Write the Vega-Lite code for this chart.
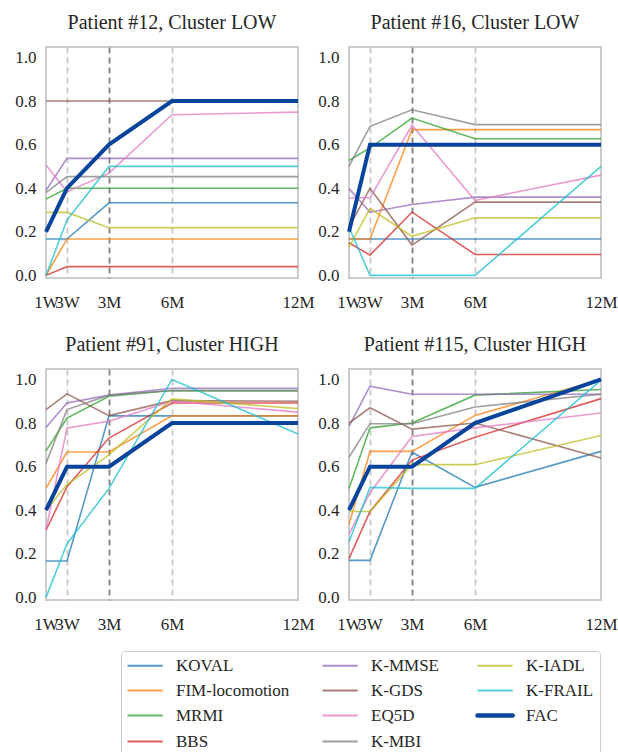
{
  "$schema": "https://vega.github.io/schema/vega-lite/v6.json",
  "padding": {"left": 13, "top": 12, "right": 0, "bottom": 0},
  "config": {
    "font": "Liberation Serif",
    "view": {"stroke": "#cccccc", "strokeWidth": 2},
    "axis": {"labelFont": "Liberation Serif", "labelFontSize": 17, "labelColor": "#262626", "ticks": false, "domain": false, "title": null},
    "header": {"labelFont": "Liberation Serif", "labelFontSize": 20, "labelColor": "#262626", "title": null},
    "legend": {"labelFont": "Liberation Serif", "labelFontSize": 17, "labelColor": "#262626"}
  },
  "datasets": {
    "scores": [
      {"p":"Patient #12, Cluster LOW","m":"KOVAL","t":0,"v":0.167},{"p":"Patient #12, Cluster LOW","m":"KOVAL","t":1,"v":0.167},{"p":"Patient #12, Cluster LOW","m":"KOVAL","t":3,"v":0.333},{"p":"Patient #12, Cluster LOW","m":"KOVAL","t":6,"v":0.333},{"p":"Patient #12, Cluster LOW","m":"KOVAL","t":12,"v":0.333},
      {"p":"Patient #12, Cluster LOW","m":"FIM-locomotion","t":0,"v":0},{"p":"Patient #12, Cluster LOW","m":"FIM-locomotion","t":1,"v":0.167},{"p":"Patient #12, Cluster LOW","m":"FIM-locomotion","t":3,"v":0.167},{"p":"Patient #12, Cluster LOW","m":"FIM-locomotion","t":6,"v":0.167},{"p":"Patient #12, Cluster LOW","m":"FIM-locomotion","t":12,"v":0.167},
      {"p":"Patient #12, Cluster LOW","m":"MRMI","t":0,"v":0.35},{"p":"Patient #12, Cluster LOW","m":"MRMI","t":1,"v":0.4},{"p":"Patient #12, Cluster LOW","m":"MRMI","t":3,"v":0.4},{"p":"Patient #12, Cluster LOW","m":"MRMI","t":6,"v":0.4},{"p":"Patient #12, Cluster LOW","m":"MRMI","t":12,"v":0.4},
      {"p":"Patient #12, Cluster LOW","m":"BBS","t":0,"v":0},{"p":"Patient #12, Cluster LOW","m":"BBS","t":1,"v":0.04},{"p":"Patient #12, Cluster LOW","m":"BBS","t":3,"v":0.04},{"p":"Patient #12, Cluster LOW","m":"BBS","t":6,"v":0.04},{"p":"Patient #12, Cluster LOW","m":"BBS","t":12,"v":0.04},
      {"p":"Patient #12, Cluster LOW","m":"K-MMSE","t":0,"v":0.39},{"p":"Patient #12, Cluster LOW","m":"K-MMSE","t":1,"v":0.537},{"p":"Patient #12, Cluster LOW","m":"K-MMSE","t":3,"v":0.537},{"p":"Patient #12, Cluster LOW","m":"K-MMSE","t":6,"v":0.537},{"p":"Patient #12, Cluster LOW","m":"K-MMSE","t":12,"v":0.537},
      {"p":"Patient #12, Cluster LOW","m":"K-GDS","t":0,"v":0.8},{"p":"Patient #12, Cluster LOW","m":"K-GDS","t":1,"v":0.8},{"p":"Patient #12, Cluster LOW","m":"K-GDS","t":3,"v":0.8},{"p":"Patient #12, Cluster LOW","m":"K-GDS","t":6,"v":0.8},{"p":"Patient #12, Cluster LOW","m":"K-GDS","t":12,"v":0.8},
      {"p":"Patient #12, Cluster LOW","m":"EQ5D","t":0,"v":0.507},{"p":"Patient #12, Cluster LOW","m":"EQ5D","t":1,"v":0.384},{"p":"Patient #12, Cluster LOW","m":"EQ5D","t":3,"v":0.469},{"p":"Patient #12, Cluster LOW","m":"EQ5D","t":6,"v":0.737},{"p":"Patient #12, Cluster LOW","m":"EQ5D","t":12,"v":0.749},
      {"p":"Patient #12, Cluster LOW","m":"K-MBI","t":0,"v":0.38},{"p":"Patient #12, Cluster LOW","m":"K-MBI","t":1,"v":0.453},{"p":"Patient #12, Cluster LOW","m":"K-MBI","t":3,"v":0.453},{"p":"Patient #12, Cluster LOW","m":"K-MBI","t":6,"v":0.453},{"p":"Patient #12, Cluster LOW","m":"K-MBI","t":12,"v":0.453},
      {"p":"Patient #12, Cluster LOW","m":"K-IADL","t":0,"v":0.289},{"p":"Patient #12, Cluster LOW","m":"K-IADL","t":1,"v":0.289},{"p":"Patient #12, Cluster LOW","m":"K-IADL","t":3,"v":0.219},{"p":"Patient #12, Cluster LOW","m":"K-IADL","t":6,"v":0.219},{"p":"Patient #12, Cluster LOW","m":"K-IADL","t":12,"v":0.219},
      {"p":"Patient #12, Cluster LOW","m":"K-FRAIL","t":0,"v":0},{"p":"Patient #12, Cluster LOW","m":"K-FRAIL","t":1,"v":0.254},{"p":"Patient #12, Cluster LOW","m":"K-FRAIL","t":3,"v":0.5},{"p":"Patient #12, Cluster LOW","m":"K-FRAIL","t":6,"v":0.5},{"p":"Patient #12, Cluster LOW","m":"K-FRAIL","t":12,"v":0.5},
      {"p":"Patient #12, Cluster LOW","m":"FAC","t":0,"v":0.2},{"p":"Patient #12, Cluster LOW","m":"FAC","t":1,"v":0.4},{"p":"Patient #12, Cluster LOW","m":"FAC","t":3,"v":0.6},{"p":"Patient #12, Cluster LOW","m":"FAC","t":6,"v":0.8},{"p":"Patient #12, Cluster LOW","m":"FAC","t":12,"v":0.8},

      {"p":"Patient #16, Cluster LOW","m":"KOVAL","t":0,"v":0.167},{"p":"Patient #16, Cluster LOW","m":"KOVAL","t":1,"v":0.167},{"p":"Patient #16, Cluster LOW","m":"KOVAL","t":3,"v":0.167},{"p":"Patient #16, Cluster LOW","m":"KOVAL","t":6,"v":0.167},{"p":"Patient #16, Cluster LOW","m":"KOVAL","t":12,"v":0.167},
      {"p":"Patient #16, Cluster LOW","m":"FIM-locomotion","t":0,"v":0.167},{"p":"Patient #16, Cluster LOW","m":"FIM-locomotion","t":1,"v":0.167},{"p":"Patient #16, Cluster LOW","m":"FIM-locomotion","t":3,"v":0.669},{"p":"Patient #16, Cluster LOW","m":"FIM-locomotion","t":6,"v":0.669},{"p":"Patient #16, Cluster LOW","m":"FIM-locomotion","t":12,"v":0.669},
      {"p":"Patient #16, Cluster LOW","m":"MRMI","t":0,"v":0.527},{"p":"Patient #16, Cluster LOW","m":"MRMI","t":1,"v":0.585},{"p":"Patient #16, Cluster LOW","m":"MRMI","t":3,"v":0.722},{"p":"Patient #16, Cluster LOW","m":"MRMI","t":6,"v":0.627},{"p":"Patient #16, Cluster LOW","m":"MRMI","t":12,"v":0.627},
      {"p":"Patient #16, Cluster LOW","m":"BBS","t":0,"v":0.15},{"p":"Patient #16, Cluster LOW","m":"BBS","t":1,"v":0.093},{"p":"Patient #16, Cluster LOW","m":"BBS","t":3,"v":0.29},{"p":"Patient #16, Cluster LOW","m":"BBS","t":6,"v":0.096},{"p":"Patient #16, Cluster LOW","m":"BBS","t":12,"v":0.096},
      {"p":"Patient #16, Cluster LOW","m":"K-MMSE","t":0,"v":0.398},{"p":"Patient #16, Cluster LOW","m":"K-MMSE","t":1,"v":0.29},{"p":"Patient #16, Cluster LOW","m":"K-MMSE","t":3,"v":0.325},{"p":"Patient #16, Cluster LOW","m":"K-MMSE","t":6,"v":0.359},{"p":"Patient #16, Cluster LOW","m":"K-MMSE","t":12,"v":0.359},
      {"p":"Patient #16, Cluster LOW","m":"K-GDS","t":0,"v":0.22},{"p":"Patient #16, Cluster LOW","m":"K-GDS","t":1,"v":0.4},{"p":"Patient #16, Cluster LOW","m":"K-GDS","t":3,"v":0.139},{"p":"Patient #16, Cluster LOW","m":"K-GDS","t":6,"v":0.336},{"p":"Patient #16, Cluster LOW","m":"K-GDS","t":12,"v":0.336},
      {"p":"Patient #16, Cluster LOW","m":"EQ5D","t":0,"v":0.356},{"p":"Patient #16, Cluster LOW","m":"EQ5D","t":1,"v":0.356},{"p":"Patient #16, Cluster LOW","m":"EQ5D","t":3,"v":0.689},{"p":"Patient #16, Cluster LOW","m":"EQ5D","t":6,"v":0.344},{"p":"Patient #16, Cluster LOW","m":"EQ5D","t":12,"v":0.46},
      {"p":"Patient #16, Cluster LOW","m":"K-MBI","t":0,"v":0.5},{"p":"Patient #16, Cluster LOW","m":"K-MBI","t":1,"v":0.684},{"p":"Patient #16, Cluster LOW","m":"K-MBI","t":3,"v":0.76},{"p":"Patient #16, Cluster LOW","m":"K-MBI","t":6,"v":0.692},{"p":"Patient #16, Cluster LOW","m":"K-MBI","t":12,"v":0.692},
      {"p":"Patient #16, Cluster LOW","m":"K-IADL","t":0,"v":0.13},{"p":"Patient #16, Cluster LOW","m":"K-IADL","t":1,"v":0.307},{"p":"Patient #16, Cluster LOW","m":"K-IADL","t":3,"v":0.179},{"p":"Patient #16, Cluster LOW","m":"K-IADL","t":6,"v":0.264},{"p":"Patient #16, Cluster LOW","m":"K-IADL","t":12,"v":0.264},
      {"p":"Patient #16, Cluster LOW","m":"K-FRAIL","t":0,"v":0.22},{"p":"Patient #16, Cluster LOW","m":"K-FRAIL","t":1,"v":0},{"p":"Patient #16, Cluster LOW","m":"K-FRAIL","t":3,"v":0},{"p":"Patient #16, Cluster LOW","m":"K-FRAIL","t":6,"v":0},{"p":"Patient #16, Cluster LOW","m":"K-FRAIL","t":12,"v":0.5},
      {"p":"Patient #16, Cluster LOW","m":"FAC","t":0,"v":0.2},{"p":"Patient #16, Cluster LOW","m":"FAC","t":1,"v":0.6},{"p":"Patient #16, Cluster LOW","m":"FAC","t":3,"v":0.6},{"p":"Patient #16, Cluster LOW","m":"FAC","t":6,"v":0.6},{"p":"Patient #16, Cluster LOW","m":"FAC","t":12,"v":0.6},

      {"p":"Patient #91, Cluster HIGH","m":"KOVAL","t":0,"v":0.167},{"p":"Patient #91, Cluster HIGH","m":"KOVAL","t":1,"v":0.167},{"p":"Patient #91, Cluster HIGH","m":"KOVAL","t":3,"v":0.833},{"p":"Patient #91, Cluster HIGH","m":"KOVAL","t":6,"v":0.833},{"p":"Patient #91, Cluster HIGH","m":"KOVAL","t":12,"v":0.833},
      {"p":"Patient #91, Cluster HIGH","m":"FIM-locomotion","t":0,"v":0.5},{"p":"Patient #91, Cluster HIGH","m":"FIM-locomotion","t":1,"v":0.667},{"p":"Patient #91, Cluster HIGH","m":"FIM-locomotion","t":3,"v":0.667},{"p":"Patient #91, Cluster HIGH","m":"FIM-locomotion","t":6,"v":0.833},{"p":"Patient #91, Cluster HIGH","m":"FIM-locomotion","t":12,"v":0.833},
      {"p":"Patient #91, Cluster HIGH","m":"MRMI","t":0,"v":0.672},{"p":"Patient #91, Cluster HIGH","m":"MRMI","t":1,"v":0.823},{"p":"Patient #91, Cluster HIGH","m":"MRMI","t":3,"v":0.923},{"p":"Patient #91, Cluster HIGH","m":"MRMI","t":6,"v":0.949},{"p":"Patient #91, Cluster HIGH","m":"MRMI","t":12,"v":0.949},
      {"p":"Patient #91, Cluster HIGH","m":"BBS","t":0,"v":0.308},{"p":"Patient #91, Cluster HIGH","m":"BBS","t":1,"v":0.508},{"p":"Patient #91, Cluster HIGH","m":"BBS","t":3,"v":0.731},{"p":"Patient #91, Cluster HIGH","m":"BBS","t":6,"v":0.892},{"p":"Patient #91, Cluster HIGH","m":"BBS","t":12,"v":0.892},
      {"p":"Patient #91, Cluster HIGH","m":"K-MMSE","t":0,"v":0.78},{"p":"Patient #91, Cluster HIGH","m":"K-MMSE","t":1,"v":0.892},{"p":"Patient #91, Cluster HIGH","m":"K-MMSE","t":3,"v":0.928},{"p":"Patient #91, Cluster HIGH","m":"K-MMSE","t":6,"v":0.96},{"p":"Patient #91, Cluster HIGH","m":"K-MMSE","t":12,"v":0.96},
      {"p":"Patient #91, Cluster HIGH","m":"K-GDS","t":0,"v":0.862},{"p":"Patient #91, Cluster HIGH","m":"K-GDS","t":1,"v":0.934},{"p":"Patient #91, Cluster HIGH","m":"K-GDS","t":3,"v":0.834},{"p":"Patient #91, Cluster HIGH","m":"K-GDS","t":6,"v":0.903},{"p":"Patient #91, Cluster HIGH","m":"K-GDS","t":12,"v":0.9},
      {"p":"Patient #91, Cluster HIGH","m":"EQ5D","t":0,"v":0.31},{"p":"Patient #91, Cluster HIGH","m":"EQ5D","t":1,"v":0.777},{"p":"Patient #91, Cluster HIGH","m":"EQ5D","t":3,"v":0.808},{"p":"Patient #91, Cluster HIGH","m":"EQ5D","t":6,"v":0.9},{"p":"Patient #91, Cluster HIGH","m":"EQ5D","t":12,"v":0.85},
      {"p":"Patient #91, Cluster HIGH","m":"K-MBI","t":0,"v":0.615},{"p":"Patient #91, Cluster HIGH","m":"K-MBI","t":1,"v":0.862},{"p":"Patient #91, Cluster HIGH","m":"K-MBI","t":3,"v":0.928},{"p":"Patient #91, Cluster HIGH","m":"K-MBI","t":6,"v":0.949},{"p":"Patient #91, Cluster HIGH","m":"K-MBI","t":12,"v":0.949},
      {"p":"Patient #91, Cluster HIGH","m":"K-IADL","t":0,"v":0.4},{"p":"Patient #91, Cluster HIGH","m":"K-IADL","t":1,"v":0.518},{"p":"Patient #91, Cluster HIGH","m":"K-IADL","t":3,"v":0.654},{"p":"Patient #91, Cluster HIGH","m":"K-IADL","t":6,"v":0.911},{"p":"Patient #91, Cluster HIGH","m":"K-IADL","t":12,"v":0.866},
      {"p":"Patient #91, Cluster HIGH","m":"K-FRAIL","t":0,"v":0},{"p":"Patient #91, Cluster HIGH","m":"K-FRAIL","t":1,"v":0.246},{"p":"Patient #91, Cluster HIGH","m":"K-FRAIL","t":3,"v":0.5},{"p":"Patient #91, Cluster HIGH","m":"K-FRAIL","t":6,"v":1.0},{"p":"Patient #91, Cluster HIGH","m":"K-FRAIL","t":12,"v":0.75},
      {"p":"Patient #91, Cluster HIGH","m":"FAC","t":0,"v":0.4},{"p":"Patient #91, Cluster HIGH","m":"FAC","t":1,"v":0.6},{"p":"Patient #91, Cluster HIGH","m":"FAC","t":3,"v":0.6},{"p":"Patient #91, Cluster HIGH","m":"FAC","t":6,"v":0.8},{"p":"Patient #91, Cluster HIGH","m":"FAC","t":12,"v":0.8},

      {"p":"Patient #115, Cluster HIGH","m":"KOVAL","t":0,"v":0.17},{"p":"Patient #115, Cluster HIGH","m":"KOVAL","t":1,"v":0.17},{"p":"Patient #115, Cluster HIGH","m":"KOVAL","t":3,"v":0.666},{"p":"Patient #115, Cluster HIGH","m":"KOVAL","t":6,"v":0.505},{"p":"Patient #115, Cluster HIGH","m":"KOVAL","t":12,"v":0.67},
      {"p":"Patient #115, Cluster HIGH","m":"FIM-locomotion","t":0,"v":0.335},{"p":"Patient #115, Cluster HIGH","m":"FIM-locomotion","t":1,"v":0.67},{"p":"Patient #115, Cluster HIGH","m":"FIM-locomotion","t":3,"v":0.67},{"p":"Patient #115, Cluster HIGH","m":"FIM-locomotion","t":6,"v":0.835},{"p":"Patient #115, Cluster HIGH","m":"FIM-locomotion","t":12,"v":1.0},
      {"p":"Patient #115, Cluster HIGH","m":"MRMI","t":0,"v":0.5},{"p":"Patient #115, Cluster HIGH","m":"MRMI","t":1,"v":0.778},{"p":"Patient #115, Cluster HIGH","m":"MRMI","t":3,"v":0.8},{"p":"Patient #115, Cluster HIGH","m":"MRMI","t":6,"v":0.928},{"p":"Patient #115, Cluster HIGH","m":"MRMI","t":12,"v":0.954},
      {"p":"Patient #115, Cluster HIGH","m":"BBS","t":0,"v":0.178},{"p":"Patient #115, Cluster HIGH","m":"BBS","t":1,"v":0.394},{"p":"Patient #115, Cluster HIGH","m":"BBS","t":3,"v":0.63},{"p":"Patient #115, Cluster HIGH","m":"BBS","t":6,"v":0.735},{"p":"Patient #115, Cluster HIGH","m":"BBS","t":12,"v":0.912},
      {"p":"Patient #115, Cluster HIGH","m":"K-MMSE","t":0,"v":0.785},{"p":"Patient #115, Cluster HIGH","m":"K-MMSE","t":1,"v":0.969},{"p":"Patient #115, Cluster HIGH","m":"K-MMSE","t":3,"v":0.932},{"p":"Patient #115, Cluster HIGH","m":"K-MMSE","t":6,"v":0.932},{"p":"Patient #115, Cluster HIGH","m":"K-MMSE","t":12,"v":0.932},
      {"p":"Patient #115, Cluster HIGH","m":"K-GDS","t":0,"v":0.8},{"p":"Patient #115, Cluster HIGH","m":"K-GDS","t":1,"v":0.87},{"p":"Patient #115, Cluster HIGH","m":"K-GDS","t":3,"v":0.772},{"p":"Patient #115, Cluster HIGH","m":"K-GDS","t":6,"v":0.8},{"p":"Patient #115, Cluster HIGH","m":"K-GDS","t":12,"v":0.64},
      {"p":"Patient #115, Cluster HIGH","m":"EQ5D","t":0,"v":0.29},{"p":"Patient #115, Cluster HIGH","m":"EQ5D","t":1,"v":0.48},{"p":"Patient #115, Cluster HIGH","m":"EQ5D","t":3,"v":0.738},{"p":"Patient #115, Cluster HIGH","m":"EQ5D","t":6,"v":0.778},{"p":"Patient #115, Cluster HIGH","m":"EQ5D","t":12,"v":0.846},
      {"p":"Patient #115, Cluster HIGH","m":"K-MBI","t":0,"v":0.643},{"p":"Patient #115, Cluster HIGH","m":"K-MBI","t":1,"v":0.797},{"p":"Patient #115, Cluster HIGH","m":"K-MBI","t":3,"v":0.797},{"p":"Patient #115, Cluster HIGH","m":"K-MBI","t":6,"v":0.874},{"p":"Patient #115, Cluster HIGH","m":"K-MBI","t":12,"v":0.932},
      {"p":"Patient #115, Cluster HIGH","m":"K-IADL","t":0,"v":0.394},{"p":"Patient #115, Cluster HIGH","m":"K-IADL","t":1,"v":0.394},{"p":"Patient #115, Cluster HIGH","m":"K-IADL","t":3,"v":0.609},{"p":"Patient #115, Cluster HIGH","m":"K-IADL","t":6,"v":0.609},{"p":"Patient #115, Cluster HIGH","m":"K-IADL","t":12,"v":0.743},
      {"p":"Patient #115, Cluster HIGH","m":"K-FRAIL","t":0,"v":0.255},{"p":"Patient #115, Cluster HIGH","m":"K-FRAIL","t":1,"v":0.505},{"p":"Patient #115, Cluster HIGH","m":"K-FRAIL","t":3,"v":0.5},{"p":"Patient #115, Cluster HIGH","m":"K-FRAIL","t":6,"v":0.5},{"p":"Patient #115, Cluster HIGH","m":"K-FRAIL","t":12,"v":0.997},
      {"p":"Patient #115, Cluster HIGH","m":"FAC","t":0,"v":0.4},{"p":"Patient #115, Cluster HIGH","m":"FAC","t":1,"v":0.6},{"p":"Patient #115, Cluster HIGH","m":"FAC","t":3,"v":0.6},{"p":"Patient #115, Cluster HIGH","m":"FAC","t":6,"v":0.8},{"p":"Patient #115, Cluster HIGH","m":"FAC","t":12,"v":1.0}
    ]
  },
  "data": {"name": "scores"},
  "facet": {
    "field": "p", "type": "nominal",
    "sort": ["Patient #12, Cluster LOW", "Patient #16, Cluster LOW", "Patient #91, Cluster HIGH", "Patient #115, Cluster HIGH"],
    "header": {"title": null, "labelFont": "Liberation Serif", "labelFontSize": 20, "labelPadding": 14}
  },
  "columns": 2,
  "spacing": {"column": 0, "row": 23},
  "resolve": {"axis": {"x": "independent", "y": "independent"}},
  "spec": {
    "width": 252,
    "height": 231,
    "encoding": {
      "x": {
        "field": "t", "type": "quantitative",
        "scale": {"domain": [0, 12], "nice": false, "zero": false},
        "axis": {
          "values": [0, 1, 3, 6, 12],
          "labelExpr": "datum.value == 0 ? '1W' : datum.value == 1 ? '3W' : datum.value == 3 ? '3M' : datum.value == 6 ? '6M' : '12M'",
          "labelFont": "Liberation Serif",
          "labelFontSize": 17,
          "labelPadding": 16,
          "labelFlush": false,
          "labelOverlap": false,
          "grid": true,
          "gridDash": [6, 4],
          "gridWidth": 1.8,
          "gridColor": {"condition": {"test": "datum.value == 3", "value": "#808080"}, "value": "#c8c8c8"},
          "gridOpacity": {"condition": {"test": "datum.value == 0 || datum.value == 12", "value": 0}, "value": 1}
        }
      },
      "y": {
        "field": "v", "type": "quantitative",
        "scale": {"domain": [-0.012, 1.048], "nice": false, "zero": false},
        "axis": {"values": [0, 0.2, 0.4, 0.6, 0.8, 1.0], "format": ".1f", "labelFont": "Liberation Serif", "labelFontSize": 17, "labelPadding": 10, "grid": false}
      },
      "color": {
        "field": "m", "type": "nominal",
        "scale": {
          "domain": ["KOVAL", "FIM-locomotion", "MRMI", "BBS", "K-MMSE", "K-GDS", "EQ5D", "K-MBI", "K-IADL", "K-FRAIL", "FAC"],
          "range": ["#1f77b4", "#ff7f0e", "#2ca02c", "#d62728", "#9467bd", "#8c564b", "#e377c2", "#7f7f7f", "#bcbd22", "#17becf", "#08449c"]
        },
        "legend": {
          "title": null, "orient": "none", "legendX": 75, "legendY": 604, "columns": 3, "direction": "vertical",
          "symbolType": "M-1,0H3.4", "symbolSize": 256, "symbolStrokeWidth": 2, "symbolOpacity": 0.75,
          "columnPadding": 28, "rowPadding": 7,
          "labelOffset": 32, "labelFont": "Liberation Serif", "labelFontSize": 17, "labelColor": "#262626",
          "padding": 6, "strokeColor": "#cccccc", "cornerRadius": 3,
          "encode": {
            "symbols": {
              "update": {
                "strokeWidth": {"signal": "datum.value === 'FAC' ? 4.5 : 2"},
                "opacity": {"signal": "datum.value === 'FAC' ? 1 : 0.75"},
                "strokeCap": {"signal": "datum.value === 'FAC' ? 'round' : 'butt'"}
              }
            }
          }
        }
      }
    },
    "layer": [
      {"transform": [{"filter": "datum.m != 'FAC'"}], "mark": {"type": "line", "strokeWidth": 1.6, "opacity": 0.75}},
      {"transform": [{"filter": "datum.m == 'FAC'"}], "mark": {"type": "line", "strokeWidth": 4, "opacity": 1}}
    ]
  }
}
